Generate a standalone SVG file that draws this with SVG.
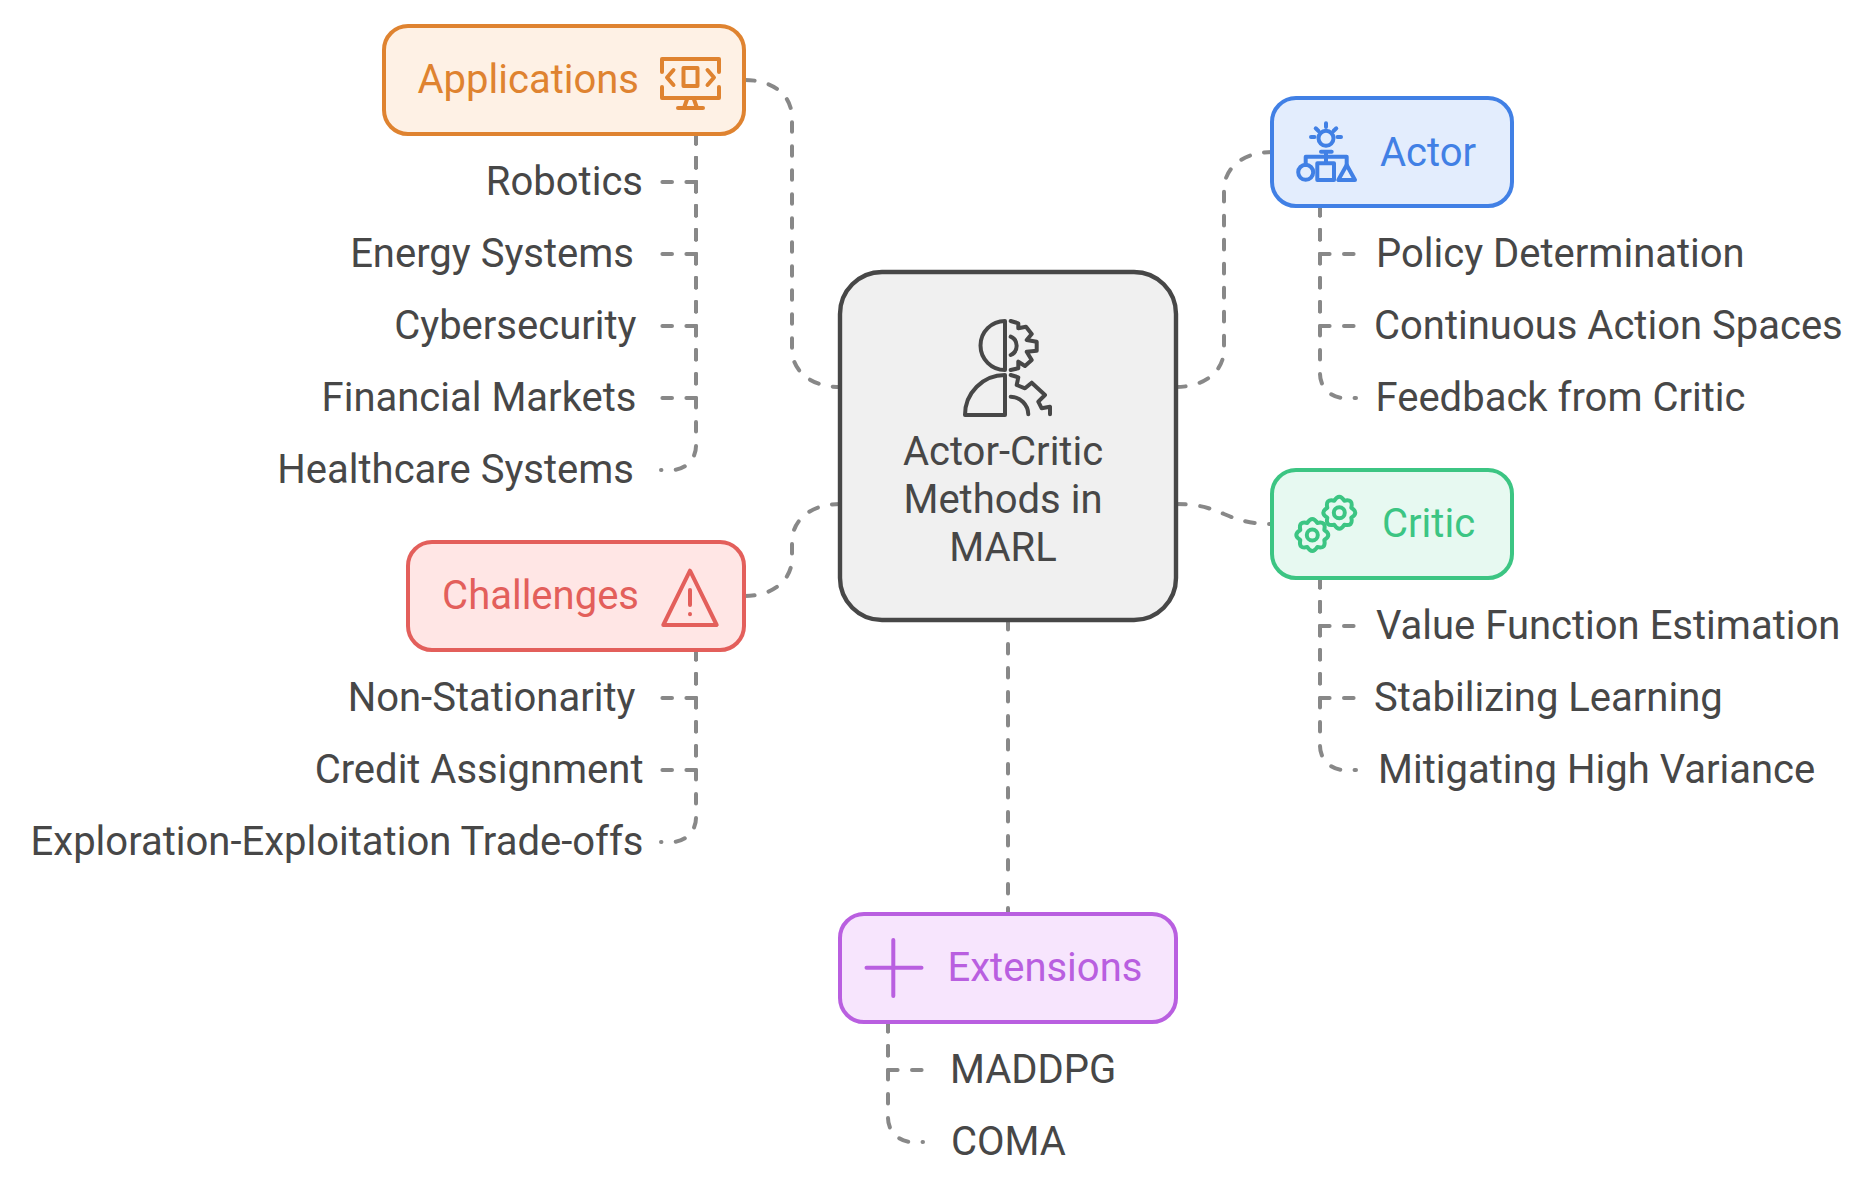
<svg xmlns="http://www.w3.org/2000/svg" width="1872" height="1190" viewBox="0 0 1872 1190">
<style>
text{font-family:Roboto,"Liberation Sans",sans-serif;font-size:40px}
.lbl{fill:#474747}
.e{text-anchor:end}
.box{stroke-width:4}
.ic{fill:none;stroke-width:4;stroke-linecap:round;stroke-linejoin:round}
#connectors path{fill:none;stroke:#888;stroke-width:4;stroke-linecap:round;stroke-dasharray:9.6 14.4}
</style>
<defs>
<path id="gear" d="M12,-5Q20,0 12,5Q14.1,14.1 5,12Q0,20 -5,12Q-14.1,14.1 -12,5Q-20,0 -12,-5Q-14.1,-14.1 -5,-12Q0,-20 5,-12Q14.1,-14.1 12,-5Z"/>
</defs>
<rect width="1872" height="1190" fill="#fff"/>
<g id="connectors">
<path d="M745,80C773,80 792,95 792,118V349C792,372 812,387 840,387"/>
<path d="M1176,387C1204,387 1224,372 1224,349V190C1224,167 1244,152 1272,152"/>
<path d="M1176,504C1224,504 1224,524 1272,524"/>
<path d="M745,596C772,596 792,581 792,558V542C792,519 812,504 840,504"/>
<path d="M1008,620V914"/>
<path d="M696,134V182H662"/>
<path d="M696,134V254H662"/>
<path d="M696,134V326H662"/>
<path d="M696,134V398H662"/>
<path d="M696,134V446A24,24 0 0 1 672,470H661"/>
<path d="M1320,206V254H1358"/>
<path d="M1320,206V326H1358"/>
<path d="M1320,206V374A24,24 0 0 0 1344,398H1356"/>
<path d="M1320,578V626H1358"/>
<path d="M1320,578V698H1358"/>
<path d="M1320,578V746A24,24 0 0 0 1344,770H1356"/>
<path d="M696,650V698H662"/>
<path d="M696,650V770H662"/>
<path d="M696,650V818A24,24 0 0 1 672,842H661"/>
<path d="M888,1022V1070H922"/>
<path d="M888,1022V1118A24,24 0 0 0 912,1142H923"/>
</g>
<g id="center">
<rect x="840" y="272" width="336" height="348" rx="42" fill="#f0f0f0" stroke="#474747" stroke-width="4.4"/>
<g class="ic" stroke="#474747">
<path d="M1005,321V370A24.5,24.5 0 0 1 1005,321Z"/>
<path d="M1005,375V415H965A40,40 0 0 1 1005,375Z"/>
<path d="M1010.7,321L1018.3,323.3V328.3L1026,326.7L1031.7,334L1026.7,340L1036.7,341.7V350.7L1026.7,351.7L1031.7,360L1025,366L1018.3,361.7V368.3L1010.7,370"/>
<path d="M1010.7,336.7A10,10 0 0 1 1010.7,355"/>
<path d="M1010.7,375L1018.3,377.3L1016.7,385L1025,388.3L1031.7,382.7L1045,395L1038.3,401.7L1041.7,408.3L1050,406.7V414.3"/>
<path d="M1010.7,396.7A18,18 0 0 1 1028.3,414.3"/>
</g>
<text class="lbl" x="1003" y="465" text-anchor="middle">Actor-Critic</text>
<text class="lbl" x="1003" y="513" text-anchor="middle">Methods in</text>
<text class="lbl" x="1003" y="561" text-anchor="middle">MARL</text>
</g>
<g id="applications">
<rect class="box" x="384" y="26" width="360" height="108" rx="24" fill="#fef1e5" stroke="#df8330"/>
<g class="ic" stroke="#df8330" transform="translate(662,57)">
<path d="M0,15V2H57V15M0,30V41H57V30M11.5,13L5,20.5L11.5,28M45.5,13L52,20.5L45.5,28"/>
<rect x="21.5" y="11" width="14" height="18"/>
<path d="M16,51H41M25.5,41L22,51M31.5,41L35,51"/>
</g>
<text x="639" y="92.500" text-anchor="end" fill="#df8330">Applications</text>
</g>
<g id="actor">
<rect class="box" x="1272" y="98" width="240" height="108" rx="24" fill="#e3edfd" stroke="#4180e5"/>
<g class="ic" stroke="#4180e5">
<circle cx="1326" cy="138.3" r="7.5"/>
<path d="M1326,123.300V127M1315.700,128.300L1318.500,131M1336.300,128.300L1333.500,131M1311,137H1314.500M1337.500,137H1341M1321,151.700H1331.700M1326,151.700V163M1305.700,165V156.700H1346.700V165"/>
<circle cx="1305.700" cy="172.300" r="7.5"/>
<rect x="1317.300" y="163.300" width="16.700" height="16.700"/>
<path d="M1338.300,180H1355L1346.700,165Z"/>
</g>
<text x="1380" y="166" fill="#4180e5">Actor</text>
</g>
<g id="critic">
<rect class="box" x="1272" y="470" width="240" height="108" rx="24" fill="#e7f9f1" stroke="#3cc583"/>
<g class="ic" stroke="#3cc583">
<use href="#gear" transform="translate(1312.300,535)"/>
<circle cx="1312.300" cy="535" r="5.5"/>
<use href="#gear" transform="translate(1339.300,512.700)"/>
<circle cx="1339.300" cy="512.700" r="5.5"/>
</g>
<text x="1382" y="537" fill="#3cc583">Critic</text>
</g>
<g id="challenges">
<rect class="box" x="408" y="542" width="336" height="108" rx="24" fill="#ffe6e5" stroke="#e35f5b"/>
<g class="ic" stroke="#e35f5b">
<path d="M690,570.700L716.700,625H663.300Z"/>
<path d="M690,590V605M690,614V614.200"/>
</g>
<text x="639" y="609" text-anchor="end" fill="#e35f5b">Challenges</text>
</g>
<g id="extensions">
<rect class="box" x="840" y="914" width="336" height="108" rx="24" fill="#f7e5fd" stroke="#b95fe0"/>
<path class="ic" stroke="#b95fe0" d="M866.500,967.700H921.500M893.300,940V996"/>
<text x="947.500" y="981" fill="#b95fe0">Extensions</text>
</g>
<g id="app-items">
<text class="lbl e" x="643" y="195">Robotics</text>
<text class="lbl e" x="634" y="267">Energy Systems</text>
<text class="lbl e" x="636.500" y="339">Cybersecurity</text>
<text class="lbl e" x="636.500" y="411">Financial Markets</text>
<text class="lbl e" x="634" y="483">Healthcare Systems</text>
</g>
<g id="actor-items">
<text class="lbl" x="1376" y="267">Policy Determination</text>
<text class="lbl" x="1374" y="339">Continuous Action Spaces</text>
<text class="lbl" x="1375.500" y="411">Feedback from Critic</text>
</g>
<g id="critic-items">
<text class="lbl" x="1376" y="639">Value Function Estimation</text>
<text class="lbl" x="1374" y="711">Stabilizing Learning</text>
<text class="lbl" x="1378" y="783">Mitigating High Variance</text>
</g>
<g id="challenge-items">
<text class="lbl e" x="635.500" y="711">Non-Stationarity</text>
<text class="lbl e" x="643.500" y="783">Credit Assignment</text>
<text class="lbl e" x="643.500" y="855">Exploration-Exploitation Trade-offs</text>
</g>
<g id="extension-items">
<text class="lbl" x="950" y="1083">MADDPG</text>
<text class="lbl" x="951" y="1155">COMA</text>
</g>
</svg>
